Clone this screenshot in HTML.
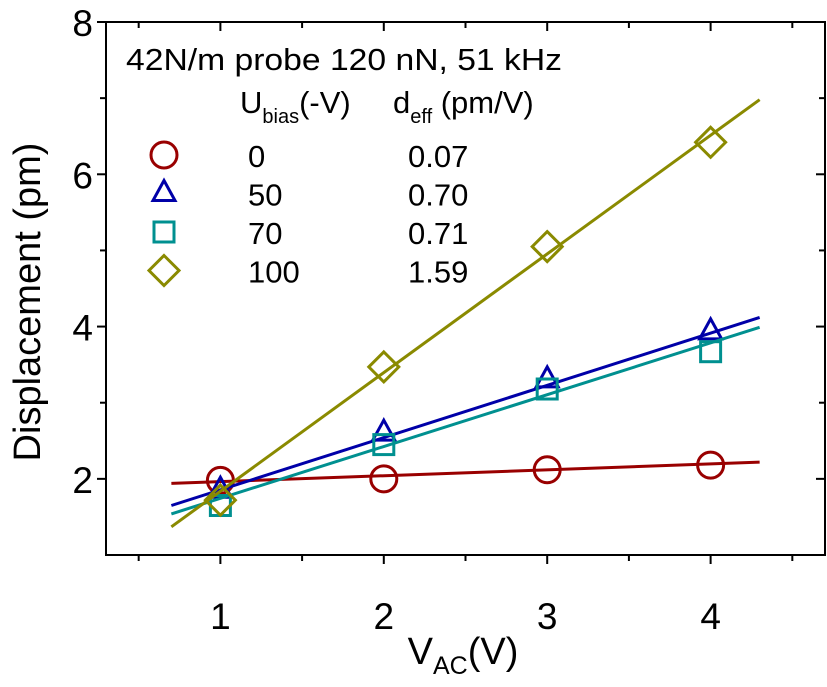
<!DOCTYPE html>
<html><head><meta charset="utf-8"><style>
body{margin:0;background:#fff;width:827px;height:682px;overflow:hidden}
svg text{font-family:"Liberation Sans",Arial,sans-serif;fill:#000}
</style></head><body>
<svg id="chart" width="827" height="682" viewBox="0 0 827 682" xmlns="http://www.w3.org/2000/svg"></svg>
<script>
const xCats=[1,2,3,4];
const circleVals=[1.98,2.0,2.12,2.18];
const triVals=[1.85,2.6,3.3,3.93];
const squareVals=[1.65,2.45,3.18,3.67];
const diamondVals=[1.72,3.47,5.05,6.42];
const fitX=[0.7,4.3];
const circleFit=[1.94,2.22];
const triFit=[1.65,4.12];
const squareFit=[1.54,3.99];
const diamondFit=[1.37,6.98];
const xTicks=[1,2,3,4];
const yTicks=[2,4,6,8];
const biasLabels=["0","50","70","100"];
const deffLabels=["0.07","0.70","0.71","1.59"];

const L=106,R=825,T=22,B=555,X0=0.3,X1=4.7,Y0=1,Y1=8;
const sx=v=>L+(v-X0)/(X1-X0)*(R-L);
const sy=v=>B-(v-Y0)/(Y1-Y0)*(B-T);
const svg=document.getElementById('chart');
const NS='http://www.w3.org/2000/svg';
function mk(tag,attrs,parent){const e=document.createElementNS(NS,tag);for(const k in attrs)e.setAttribute(k,attrs[k]);(parent||svg).appendChild(e);return e;}

const frame=mk('rect',{x:L,y:T,width:R-L,height:B-T,fill:'none',stroke:'#000','stroke-width':2});



for(let v=0.5;v<=4.51;v+=0.5){
  const major=Math.abs(v-Math.round(v))<1e-6;
  const len=major?9:6;
  const t1=mk('line',{x1:sx(v),x2:sx(v),y1:B,y2:B+len,stroke:'#000','stroke-width':2});
  
  
  const t2=mk('line',{x1:sx(v),x2:sx(v),y1:T,y2:T+len,stroke:'#000','stroke-width':2});
  
  
}
xTicks.forEach(v=>{
  const t=mk('text',{x:sx(v),y:629,'font-size':37,'text-anchor':'middle'});
  t.textContent=v;
  
  
});
for(let v=2;v<=8;v+=1){
  const major=v%2===0;
  const len=major?9:6;
  const t1=mk('line',{x1:L-len,x2:L,y1:sy(v),y2:sy(v),stroke:'#000','stroke-width':2});
  
  
  const t2=mk('line',{x1:R-len,x2:R,y1:sy(v),y2:sy(v),stroke:'#000','stroke-width':2});
  
  
}
yTicks.forEach(v=>{
  const t=mk('text',{x:93,y:sy(v)+14,'font-size':37,'text-anchor':'end'});
  t.textContent=v;
  
  
});
const yt=mk('text',{x:0,y:0,'font-size':38,'text-anchor':'middle',transform:'translate(40,302) rotate(-90)'});
yt.textContent='Displacement (pm)';


const xt=mk('text',{x:463,y:664,'font-size':38,'text-anchor':'middle'});
xt.innerHTML='V<tspan font-size="25" dy="10">AC</tspan><tspan dy="-10">(V)</tspan>';



const colors={c:'#990000',t:'#0000a8',s:'#009090',d:'#8a8a00'};
function marker(kind,x,y,col){
  let e;
  if(kind==='c')e=mk('circle',{cx:x,cy:y,r:13,fill:'none',stroke:col,'stroke-width':3});
  else if(kind==='t')e=mk('polygon',{points:`${x},${y-13} ${x+11},${y+7} ${x-11},${y+7}`,fill:'none',stroke:col,'stroke-width':3});
  else if(kind==='s')e=mk('rect',{x:x-10,y:y-10,width:20,height:20,fill:'none',stroke:col,'stroke-width':3});
  else e=mk('polygon',{points:`${x},${y-15} ${x+15},${y} ${x},${y+15} ${x-15},${y}`,fill:'none',stroke:col,'stroke-width':3});
  return e;
}
const series=[['c',circleVals,circleFit,'circle'],['t',triVals,triFit,'triangle'],['s',squareVals,squareFit,'square'],['d',diamondVals,diamondFit,'diamond']];
series.forEach(([k,vals,fit,nm])=>{
  const ln=mk('line',{x1:sx(fitX[0]),y1:sy(fit[0]),x2:sx(fitX[1]),y2:sy(fit[1]),stroke:colors[k],'stroke-width':3});
  
  
  vals.forEach((v,i)=>{
    const m=marker(k,sx(xCats[i]),sy(v),colors[k]);
    
    
  });
});

const lt=mk('text',{x:126,y:70,'font-size':31,textLength:436,lengthAdjust:'spacingAndGlyphs'});
lt.textContent='42N/m probe 120 nN, 51 kHz';


const h1=mk('text',{x:240,y:113,'font-size':31});
h1.innerHTML='U<tspan font-size="20" dy="10">bias</tspan><tspan dy="-10">(-V)</tspan>';


const h2=mk('text',{x:393,y:113,'font-size':31});
h2.innerHTML='d<tspan font-size="20" dy="10">eff</tspan><tspan dy="-10"> (pm/V)</tspan>';


series.forEach(([k,,,nm],i)=>{
  const y=155+i*38.5;
  const m=marker(k,164,y,colors[k]);
  
  
  const a=mk('text',{x:248,y:y+12,'font-size':31});
  a.textContent=biasLabels[i];
  
  
  const b=mk('text',{x:408,y:y+12,'font-size':31});
  b.textContent=deffLabels[i];
  
  
});
</script>
</body></html>
